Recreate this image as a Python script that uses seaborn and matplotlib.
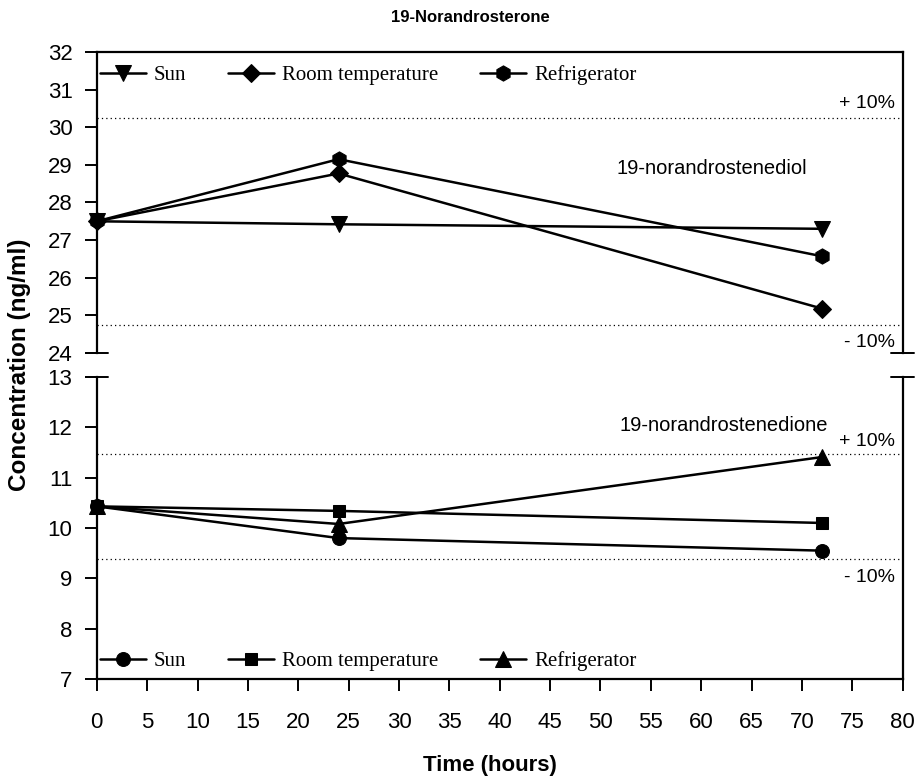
import matplotlib
matplotlib.use("Agg")
import matplotlib.pyplot as plt
import seaborn as sns

# time points (hours)
hours = [0, 24, 72]

# 19-norandrostenediol (top panel)
diol_labels = ["Sun", "Room temperature", "Refrigerator"]
diol_sun = [27.5, 27.42, 27.3]
diol_room = [27.5, 28.77, 25.18]
diol_fridge = [27.5, 29.15, 26.57]
diol_base = 27.5

# 19-norandrostenedione (bottom panel)
dione_labels = ["Sun", "Room temperature", "Refrigerator"]
dione_sun = [10.43, 9.8, 9.55]
dione_room = [10.43, 10.34, 10.1]
dione_fridge = [10.43, 10.08, 11.41]
dione_base = 10.43

sns.set_style("ticks")
plt.rcParams["font.family"] = ["Liberation Sans", "DejaVu Sans"]
plt.rcParams["text.color"] = "black"
plt.rcParams["axes.labelcolor"] = "black"

fig = plt.figure(figsize=(9.22, 7.82), dpi=100)
ax_top = fig.add_axes([0.105, 0.5486, 0.874, 0.385])
ax_bot = fig.add_axes([0.105, 0.1317, 0.874, 0.3862])

lw = 1.8
series_top = [(diol_sun, "v", 11), (diol_room, "D", 9), (diol_fridge, "h", 11)]
for (vals, mk, ms), lab in zip(series_top, diol_labels):
    sns.lineplot(x=hours, y=vals, ax=ax_top, color="black", marker=mk, markersize=ms,
                 markeredgecolor="black", linewidth=lw, label=lab, clip_on=False)

series_bot = [(dione_sun, "o", 10), (dione_room, "s", 9), (dione_fridge, "^", 11)]
for (vals, mk, ms), lab in zip(series_bot, dione_labels):
    sns.lineplot(x=hours, y=vals, ax=ax_bot, color="black", marker=mk, markersize=ms,
                 markeredgecolor="black", linewidth=lw, label=lab, clip_on=False)

# +/- 10% limits
for ax, base in [(ax_top, diol_base), (ax_bot, dione_base)]:
    ax.axhline(base * 1.1, color="black", lw=0.9, ls=(0, (1, 2.5)))
    ax.axhline(base * 0.9, color="black", lw=0.9, ls=(0, (1, 2.5)))

pct_font = 14
ax_top.text(79.2, 30.64, "+ 10%", ha="right", va="center", fontsize=pct_font)
ax_top.text(79.2, 24.29, "- 10%", ha="right", va="center", fontsize=pct_font)
ax_bot.text(79.2, 11.71, "+ 10%", ha="right", va="center", fontsize=pct_font)
ax_bot.text(79.2, 9.02, "- 10%", ha="right", va="center", fontsize=pct_font)

ax_top.text(61.1, 28.9, "19-norandrostenediol", ha="center", va="center", fontsize=14.5)
ax_bot.text(62.2, 12.03, "19-norandrostenedione", ha="center", va="center", fontsize=14.5)

# axes setup
ax_top.set_xlim(0, 80)
ax_top.set_ylim(24, 32)
ax_top.set_yticks(range(24, 33))
ax_top.set_xticks([])
ax_top.spines["bottom"].set_visible(False)

ax_bot.set_xlim(0, 80)
ax_bot.set_ylim(7, 13)
ax_bot.set_yticks(range(7, 14))
ax_bot.set_xticks(range(0, 81, 5))
ax_bot.spines["top"].set_visible(False)

for ax in (ax_top, ax_bot):
    ax.set_xlabel("")
    ax.set_ylabel("")
    for s in ax.spines.values():
        s.set_linewidth(1.6)
        s.set_color("black")
    ax.tick_params(axis="both", direction="out", length=8.5, width=1.4,
                   labelsize=16, colors="black")
    ax.tick_params(axis="y", pad=9)
    ax.tick_params(axis="x", pad=15)

# axis break marks
for ax, yy in [(ax_top, 0.0), (ax_bot, 1.0)]:
    ax.plot([-0.014, 0.014], [yy, yy], transform=ax.transAxes, color="black",
            lw=1.4, clip_on=False)
    ax.plot([0.986, 1.014], [yy, yy], transform=ax.transAxes, color="black",
            lw=1.4, clip_on=False)

leg_font = {"family": "Liberation Serif", "size": 15}
leg_kw = dict(ncol=3, frameon=False, prop=leg_font, handlelength=2.2,
              handletextpad=0.4, columnspacing=2.0, borderaxespad=0, borderpad=0.15)
ax_top.legend(loc="upper left", bbox_to_anchor=(0.0, 0.966), **leg_kw)
ax_bot.legend(loc="lower left", bbox_to_anchor=(0.0, 0.015), **leg_kw)

fig.text(470 / 922, 1 - 18 / 782, "19-Norandrosterone", ha="center", va="center",
         fontsize=12, fontweight="bold")
fig.text(20 / 922, 1 - 365 / 782, "Concentration (ng/ml)", ha="center", va="center",
         rotation=90, fontsize=17.5, fontweight="bold")
fig.text(490 / 922, 1 - 766 / 782, "Time (hours)", ha="center", va="center",
         fontsize=16, fontweight="bold")

fig.savefig("out.png", dpi=100)
